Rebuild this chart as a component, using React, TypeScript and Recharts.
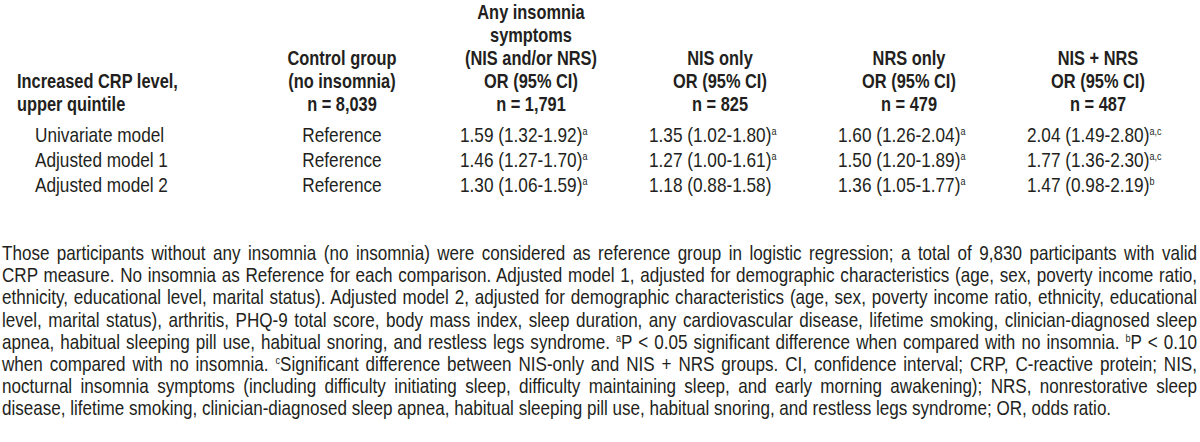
import { Scatter, ScatterChart, XAxis, YAxis } from "recharts";

// no narrow face installed: Liberation Sans squeezed horizontally instead
const FONT = "'Liberation Sans', Arial, sans-serif";
const INK = "#231f20";
const SX = 0.82;
const u = (px: number) => px / SX;

// row labels (y categories) and column keys (x categories)
const ROWS = ["Univariate model", "Adjusted model 1", "Adjusted model 2"];
const COLUMNS = ["control", "any", "nis", "nrs", "both"];

const STUB_HEADER = ["Increased CRP level,", "upper quintile"];
const HEADERS: Record<string, string[]> = {
  control: ["Control group", "(no insomnia)", "n = 8,039"],
  any: ["Any insomnia", "symptoms", "(NIS and/or NRS)", "OR (95% CI)", "n = 1,791"],
  nis: ["NIS only", "OR (95% CI)", "n = 825"],
  nrs: ["NRS only", "OR (95% CI)", "n = 479"],
  both: ["NIS + NRS", "OR (95% CI)", "n = 487"],
};

const CONTROL_VALUES = ["Reference", "Reference", "Reference"];
const ANY_VALUES = ["1.59 (1.32-1.92)", "1.46 (1.27-1.70)", "1.30 (1.06-1.59)"];
const ANY_MARKS = ["a", "a", "a"];
const NIS_VALUES = ["1.35 (1.02-1.80)", "1.27 (1.00-1.61)", "1.18 (0.88-1.58)"];
const NIS_MARKS = ["a", "a", ""];
const NRS_VALUES = ["1.60 (1.26-2.04)", "1.50 (1.20-1.89)", "1.36 (1.05-1.77)"];
const NRS_MARKS = ["a", "a", "a"];
const BOTH_VALUES = ["2.04 (1.49-2.80)", "1.77 (1.36-2.30)", "1.47 (0.98-2.19)"];
const BOTH_MARKS = ["a,c", "a,c", "b"];

const FOOTNOTE_LINES = [
  "Those participants without any insomnia (no insomnia) were considered as reference group in logistic regression; a total of 9,830 participants with valid",
  "CRP measure. No insomnia as Reference for each comparison. Adjusted model 1, adjusted for demographic characteristics (age, sex, poverty income ratio,",
  "ethnicity, educational level, marital status). Adjusted model 2, adjusted for demographic characteristics (age, sex, poverty income ratio, ethnicity, educational",
  "level, marital status), arthritis, PHQ-9 total score, body mass index, sleep duration, any cardiovascular disease, lifetime smoking, clinician-diagnosed sleep",
  "apnea, habitual sleeping pill use, habitual snoring, and restless legs syndrome. ^aP < 0.05 significant difference when compared with no insomnia. ^bP < 0.10",
  "when compared with no insomnia. ^cSignificant difference between NIS-only and NIS + NRS groups. CI, confidence interval; CRP, C-reactive protein; NIS,",
  "nocturnal insomnia symptoms (including difficulty initiating sleep, difficulty maintaining sleep, and early morning awakening); NRS, nonrestorative sleep",
  "disease, lifetime smoking, clinician-diagnosed sleep apnea, habitual sleeping pill use, habitual snoring, and restless legs syndrome; OR, odds ratio.",
];

const cells = ROWS.flatMap((row, i) => [
  { col: "control", row, text: CONTROL_VALUES[i], mark: "" },
  { col: "any", row, text: ANY_VALUES[i], mark: ANY_MARKS[i] },
  { col: "nis", row, text: NIS_VALUES[i], mark: NIS_MARKS[i] },
  { col: "nrs", row, text: NRS_VALUES[i], mark: NRS_MARKS[i] },
  { col: "both", row, text: BOTH_VALUES[i], mark: BOTH_MARKS[i] },
]);

const HEAD_SIZE = 20;
const BODY_SIZE = 21;
const HEADER_LAST_BASELINE = 111;
const HEADER_STEP = 23.1;

function HeaderTick(props: any) {
  const { x, payload } = props;
  const lines = HEADERS[payload.value] ?? [];
  return (
    <text
      textAnchor="middle"
      fontFamily={FONT}
      fontSize={HEAD_SIZE}
      fontWeight="bold"
      fill={INK}
    >
      {lines.map((l, i) => (
        <tspan
          key={i}
          x={x}
          y={HEADER_LAST_BASELINE - (lines.length - 1 - i) * HEADER_STEP}
        >
          {l}
        </tspan>
      ))}
    </text>
  );
}

function StubHeader() {
  return (
    <text fontFamily={FONT} fontSize={HEAD_SIZE} fontWeight="bold" fill={INK}>
      {STUB_HEADER.map((l, i) => (
        <tspan
          key={i}
          x={u(17)}
          y={HEADER_LAST_BASELINE - (STUB_HEADER.length - 1 - i) * HEADER_STEP}
        >
          {l}
        </tspan>
      ))}
    </text>
  );
}

function RowTick(props: any) {
  const { y, payload } = props;
  return (
    <text x={u(35)} y={y + 8} fontFamily={FONT} fontSize={BODY_SIZE} fill={INK}>
      {payload.value}
    </text>
  );
}

function CellText(props: any) {
  const { cx, cy, payload } = props;
  if (payload.col === "control") {
    return (
      <text
        x={cx}
        y={cy + 8}
        textAnchor="middle"
        fontFamily={FONT}
        fontSize={BODY_SIZE}
        fill={INK}
      >
        {payload.text}
      </text>
    );
  }
  return (
    <text x={cx - u(71)} y={cy + 8} fontFamily={FONT} fontSize={BODY_SIZE} fill={INK}>
      {payload.text}
      {payload.mark ? (
        <tspan fontSize={11} dy={-7}>
          {payload.mark}
        </tspan>
      ) : null}
    </text>
  );
}

function renderFootLine(line: string) {
  const parts = line.split(/\^(\w)/);
  return parts.map((p, i) =>
    i % 2 ? (
      <sup key={i} style={{ fontSize: 11, lineHeight: 0, verticalAlign: "7px" }}>
        {p}
      </sup>
    ) : (
      <span key={i}>{p}</span>
    )
  );
}

export default function App() {
  return (
    <div style={{ width: 1200, height: 442, overflow: "hidden", background: "#fff", color: INK }}>
      <style>{"body{margin:0;}"}</style>
      <div
        style={{
          width: u(1200),
          transform: `scaleX(${SX})`,
          transformOrigin: "0 0",
        }}
      >
        <ScatterChart
          width={u(1200)}
          height={200}
          margin={{ top: 0, right: u(7.5), bottom: 3, left: 0 }}
        >
          <XAxis
            xAxisId={0}
            dataKey="col"
            type="category"
            orientation="top"
            allowDuplicatedCategory={false}
            ticks={COLUMNS}
            height={122}
            axisLine={false}
            tickLine={false}
            interval={0}
            tick={<HeaderTick />}
          />
          <YAxis
            yAxisId={0}
            dataKey="row"
            type="category"
            allowDuplicatedCategory={false}
            ticks={ROWS}
            reversed
            width={u(247.5)}
            axisLine={false}
            tickLine={false}
            interval={0}
            tick={<RowTick />}
            label={{ content: () => <StubHeader /> }}
          />
          <Scatter
            data={cells}
            isAnimationActive={false}
            shape={(p: any) => <CellText {...p} />}
          />
        </ScatterChart>
        <div
          style={{
            marginTop: 42,
            marginLeft: u(2),
            width: u(1195),
            fontFamily: FONT,
            fontSize: 20.8,
            lineHeight: "22.2px",
          }}
        >
          {FOOTNOTE_LINES.map((line, i) => (
            <div
              key={i}
              style={{
                whiteSpace: "nowrap",
                textAlign: "justify",
                textAlignLast: i === FOOTNOTE_LINES.length - 1 ? "left" : "justify",
              }}
            >
              {renderFootLine(line)}
            </div>
          ))}
        </div>
      </div>
    </div>
  );
}
